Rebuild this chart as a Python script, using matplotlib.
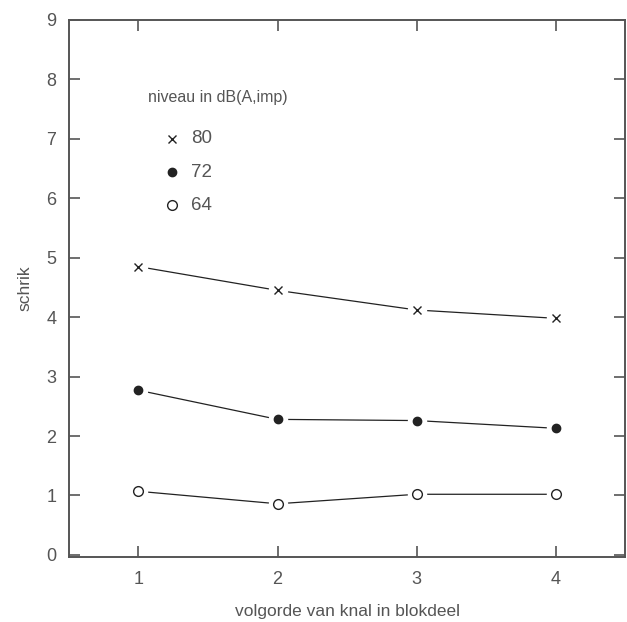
import numpy as np
import matplotlib
matplotlib.use('Agg')
import matplotlib.pyplot as plt

# data
volgorde = [1, 2, 3, 4]
niveau_labels = ['80', '72', '64']
schrik_80 = [4.85, 4.45, 4.12, 3.98]
schrik_72 = [2.77, 2.28, 2.26, 2.13]
schrik_64 = [1.07, 0.86, 1.02, 1.02]

plt.rcParams['font.family'] = ['Liberation Sans', 'DejaVu Sans']
grey = '#555555'
ink = '#222222'

fig = plt.figure(figsize=(6.27, 6.22), dpi=100)
ax = fig.add_axes([0.110, 0.105, 0.887, 0.863])

styles = [
    dict(marker='x', ms=6, mew=1.0, mfc='none', mec=ink),
    dict(marker='o', ms=6, mew=1.0, mfc=ink, mec=ink),
    dict(marker='o', ms=7, mew=1.0, mfc='white', mec=ink),
]
series = [schrik_80, schrik_72, schrik_64]

for values, st in zip(series, styles):
    # connecting line, then a white blob to leave a small gap round each marker
    ax.plot(volgorde, values, '-', color=ink, lw=0.9, zorder=2)
    ax.plot(volgorde, values, 'o', ms=14, mfc='white', mec='none', zorder=3)
    ax.plot(volgorde, values, linestyle='none', zorder=4, **st)

# legend drawn as text, like the original
ax.text(1.07, 7.7, 'niveau in dB(A,imp)', fontsize=11.5, color=grey, va='center')
for i, (lab, st) in enumerate(zip(niveau_labels, styles)):
    y = 7.0 - 0.56 * i
    ax.plot([1.24], [y], linestyle='none', **st)
    ax.text(1.38, y, lab, fontsize=13.5, color=grey, va='center')

ax.set_xlim(0.5, 4.5)
ax.set_ylim(-0.03, 9)
ax.set_xticks(volgorde)
ax.set_yticks(np.arange(0, 10))
ax.tick_params(direction='in', length=8, width=1.2, color=grey, labelcolor=grey,
               labelsize=13, top=True, right=True)
ax.tick_params(axis='x', pad=10)
ax.tick_params(axis='y', pad=9)
for s in ax.spines.values():
    s.set_color(grey)
    s.set_linewidth(1.4)

ax.set_xlabel('volgorde van knal in blokdeel', fontsize=12.5, color=grey, labelpad=12)
ax.set_ylabel('schrik', fontsize=12.5, color=grey, labelpad=10)

fig.savefig('out.png', dpi=100)
